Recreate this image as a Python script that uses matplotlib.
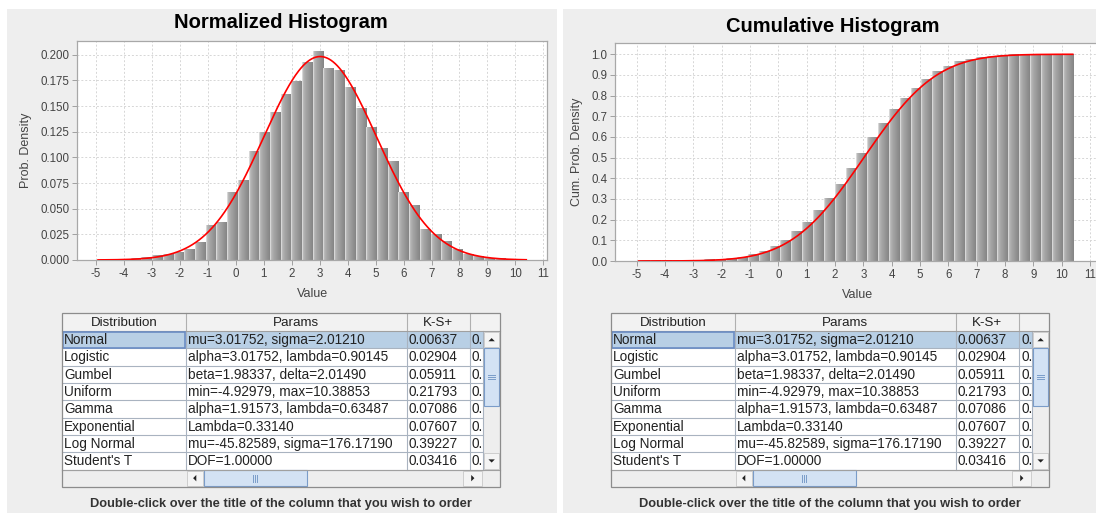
import math
import numpy as np
import matplotlib
matplotlib.use("Agg")
import matplotlib.pyplot as plt
from matplotlib.patches import Rectangle, Polygon
from matplotlib.ticker import FormatStrFormatter, MultipleLocator

W, H = 1096, 513
plt.rcParams['font.family'] = ['Liberation Sans', 'DejaVu Sans']
plt.rcParams['axes.unicode_minus'] = False

# histogram data (40 bins between sample min and max)
x_min, x_max, n_bins = -4.92979, 10.38853, 40
density = [0.0002, 0.0004, 0.0007, 0.0013, 0.0026, 0.0040, 0.0050, 0.0075, 0.0104, 0.0169,
           0.034, 0.037, 0.066, 0.077, 0.106, 0.124, 0.144, 0.161, 0.174, 0.192,
           0.203, 0.187, 0.185, 0.168, 0.148, 0.129, 0.109, 0.096, 0.066, 0.053,
           0.030, 0.025, 0.018, 0.010, 0.005, 0.003, 0.0016, 0.0010, 0.0006, 0.0003]
cumulative = [0.0001, 0.0006, 0.001, 0.002, 0.003, 0.0045, 0.006, 0.009, 0.012, 0.017,
              0.030, 0.046, 0.069, 0.099, 0.141, 0.187, 0.243, 0.303, 0.371, 0.445,
              0.522, 0.597, 0.666, 0.732, 0.788, 0.836, 0.878, 0.917, 0.942, 0.963,
              0.973, 0.984, 0.990, 0.995, 0.997, 0.998, 0.999, 0.9995, 0.9998, 1.0]

# fitted normal
mu, sigma = 3.01752, 2.01210

# table content
dist_names = ["Normal", "Logistic", "Gumbel", "Uniform", "Gamma", "Exponential",
              "Log Normal", "Student's T"]
dist_params = ["mu=3.01752, sigma=2.01210", "alpha=3.01752, lambda=0.90145",
               "beta=1.98337, delta=2.01490", "min=-4.92979, max=10.38853",
               "alpha=1.91573, lambda=0.63487", "Lambda=0.33140",
               "mu=-45.82589, sigma=176.17190", "DOF=1.00000"]
ks_values = ["0.00637", "0.02904", "0.05911", "0.21793", "0.07086", "0.07607",
             "0.39227", "0.03416"]
col_titles = ["Distribution", "Params", "K-S+"]
footer = "Double-click over the title of the column that you wish to order"

fig = plt.figure(figsize=(W / 100, H / 100), dpi=100)
fig.patch.set_facecolor('white')

bg = fig.add_axes([0, 0, 1, 1], zorder=0)
bg.set_xlim(0, W)
bg.set_ylim(H, 0)
bg.axis('off')

bg.add_patch(Rectangle((6.5, 9), 550.2, 510, color='#eeeeee', lw=0))
bg.add_patch(Rectangle((562.7, 9), 540, 510, color='#eeeeee', lw=0))


def px_axes(l, t, r, b):
    return fig.add_axes([l / W, 1 - b / H, (r - l) / W, (b - t) / H], zorder=2)


edges = np.linspace(x_min, x_max, n_bins + 1)
xs = np.linspace(x_min, x_max, 400)
pdf = [math.exp(-0.5 * ((v - mu) / sigma) ** 2) / (sigma * math.sqrt(2 * math.pi)) for v in xs]
cdf = [0.5 * (1 + math.erf((v - mu) / (sigma * math.sqrt(2)))) for v in xs]

grad = np.interp(np.linspace(0, 1, 32), [0, 0.08, 0.3, 0.6, 1.0],
                 [0.92, 0.74, 0.66, 0.60, 0.52])[None, :]


def histo(ax, values, curve, xlim, ylim, step, fmt, ylabel):
    ax.set_facecolor('white')
    w = edges[1] - edges[0]
    for i, v in enumerate(values):
        x0 = edges[i] + w * 0.06
        x1 = edges[i + 1]
        ax.imshow(grad, cmap='gray', vmin=0, vmax=1, aspect='auto',
                  extent=[x0, x1, 0, v], zorder=1.5, interpolation='bilinear')
    ax.plot(xs, curve, color='#ff0000', lw=1.2, zorder=3)
    ax.set_xlim(*xlim)
    ax.set_ylim(*ylim)
    ax.xaxis.set_major_locator(MultipleLocator(1))
    ax.yaxis.set_major_locator(MultipleLocator(step))
    ax.yaxis.set_major_formatter(FormatStrFormatter(fmt))
    ax.grid(True, color='#d6d6d6', linestyle=(0, (2, 2)), lw=0.7)
    ax.set_axisbelow(True)
    for s in ax.spines.values():
        s.set_color('#a8a8a8')
        s.set_linewidth(0.9)
    ax.tick_params(direction='out', length=3.5, width=0.7, color='#a0a0a0',
                   labelsize=8.3, labelcolor='#444444', pad=2)
    ax.set_xlabel('Value', fontsize=9, color='#444444', labelpad=6)
    ax.set_ylabel(ylabel, fontsize=9, color='#444444', labelpad=6)


ax1 = px_axes(77.3, 40.5, 547, 260)
histo(ax1, density, pdf, (-5.67, 11.13), (0, 0.2139), 0.025, '%.3f', 'Prob. Density')

ax2 = px_axes(615, 43.3, 1100, 261)
histo(ax2, cumulative, cdf, (-5.766, 11.35), (0, 1.053), 0.1, '%.1f', 'Cum. Prob. Density')

fig.text(281 / W, 1 - 23 / H, 'Normalized Histogram', ha='center', va='center',
         fontsize=14.5, fontweight='bold', color='black')
fig.text(833 / W, 1 - 26 / H, 'Cumulative Histogram', ha='center', va='center',
         fontsize=14.5, fontweight='bold', color='black')


def triangle(cx, cy, d, s=3.2):
    if d == 'up':
        pts = [(cx - s, cy + s / 2), (cx + s, cy + s / 2), (cx, cy - s / 2)]
    elif d == 'down':
        pts = [(cx - s, cy - s / 2), (cx + s, cy - s / 2), (cx, cy + s / 2)]
    elif d == 'left':
        pts = [(cx + s / 2, cy - s), (cx + s / 2, cy + s), (cx - s / 2, cy)]
    else:
        pts = [(cx - s / 2, cy - s), (cx - s / 2, cy + s), (cx + s / 2, cy)]
    bg.add_patch(Polygon(pts, closed=True, color='#222222', lw=0, zorder=5))


def draw_table(ox):
    c = [62.3 + ox, 185.7 + ox, 406.7 + ox, 470 + ox, 483.3 + ox, 500 + ox]
    top, hb, rh = 313.3, 331.0, 17.33
    bottom = hb + rh * len(dist_names)
    sb = bottom + 17
    line = '#a9b3c0'
    # header
    bg.add_patch(Rectangle((c[0], top), c[5] - c[0], hb - top, color='#f2f2f2', lw=0, zorder=3))
    for i, t in enumerate(col_titles):
        bg.text((c[i] + c[i + 1]) / 2, (top + hb) / 2 + 0.5, t, ha='center', va='center',
                fontsize=9.6, color='#222222', zorder=5)
    for x in c[1:4]:
        bg.plot([x, x], [top, hb], color='#b0b0b0', lw=0.8, zorder=4)
    # rows
    for r in range(len(dist_names)):
        y0 = hb + r * rh
        fc = '#b8cfe5' if r == 0 else 'white'
        bg.add_patch(Rectangle((c[0], y0), c[4] - c[0], rh, color=fc, lw=0, zorder=3))
        bg.plot([c[0], c[4]], [y0 + rh, y0 + rh], color=line, lw=0.8, zorder=4)
        row = [dist_names[r], dist_params[r], ks_values[r], "0."]
        for k, t in enumerate(row):
            bg.text(c[k] + 2, y0 + rh / 2 + 0.5, t, ha='left', va='center',
                    fontsize=9.8, color='#222222', zorder=5, clip_on=True)
    for x in c[1:5]:
        bg.plot([x, x], [hb, bottom], color=line, lw=0.8, zorder=4)
    bg.plot([c[0], c[5]], [hb, hb], color='#a0a0a0', lw=0.8, zorder=4)
    # focus cell
    bg.add_patch(Rectangle((c[0] + 0.8, hb + 0.8), c[1] - c[0] - 1.6, rh - 1.6, fill=False,
                           ec='#6a8cc4', lw=1.2, zorder=6))
    # vertical scrollbar
    bg.add_patch(Rectangle((c[4], hb), c[5] - c[4], bottom - hb, color='#eeeeee', lw=0, zorder=3))
    bg.add_patch(Rectangle((c[4] + 1, hb + 1), c[5] - c[4] - 2, rh - 2, fc='#f4f4f4',
                           ec='#c8c8c8', lw=0.6, zorder=4))
    triangle((c[4] + c[5]) / 2, hb + rh / 2, 'up')
    bg.add_patch(Rectangle((c[4] + 1, bottom - rh + 1), c[5] - c[4] - 2, rh - 2, fc='#f4f4f4',
                           ec='#c8c8c8', lw=0.6, zorder=4))
    triangle((c[4] + c[5]) / 2, bottom - rh / 2, 'down')
    bg.add_patch(Rectangle((c[4] + 1, hb + rh), c[5] - c[4] - 2, 58, fc='#d3e2f4',
                           ec='#7a9cc9', lw=0.8, zorder=4))
    gy = hb + rh + 29
    for d in (-2, 0, 2):
        bg.plot([c[4] + 5, c[5] - 5], [gy + d, gy + d], color='#7a9cc9', lw=0.7, zorder=5)
    # horizontal scrollbar
    bg.add_patch(Rectangle((c[0], bottom), c[5] - c[0], sb - bottom, color='#eeeeee', lw=0, zorder=3))
    bg.add_patch(Rectangle((c[1] + 1, bottom + 1), 16, sb - bottom - 2, fc='#f4f4f4',
                           ec='#c8c8c8', lw=0.6, zorder=4))
    triangle(c[1] + 9, (bottom + sb) / 2, 'left')
    bg.add_patch(Rectangle((c[1] + 18, bottom + 0.5), 103, sb - bottom - 1, fc='#d3e2f4',
                           ec='#7a9cc9', lw=0.8, zorder=4))
    gx = c[1] + 18 + 51.5
    for d in (-2, 0, 2):
        bg.plot([gx + d, gx + d], [bottom + 5, sb - 5], color='#7a9cc9', lw=0.7, zorder=5)
    bg.add_patch(Rectangle((c[4] - 20, bottom + 1), 19, sb - bottom - 2, fc='#f4f4f4',
                           ec='#c8c8c8', lw=0.6, zorder=4))
    triangle(c[4] - 10.5, (bottom + sb) / 2, 'right')
    bg.plot([c[0], c[5]], [bottom, bottom], color='#a0a0a0', lw=0.8, zorder=4)
    # outer border
    bg.add_patch(Rectangle((c[0], top), c[5] - c[0], sb - top, fill=False, ec='#8c8c8c',
                           lw=0.9, zorder=6))
    bg.text((c[0] + c[5]) / 2 - 0.5, 504, footer, ha='center', va='center', fontsize=9.25,
            fontweight='bold', color='#333333', zorder=5)


draw_table(0)
draw_table(549)

fig.savefig('out.png', dpi=100, facecolor=fig.get_facecolor())
